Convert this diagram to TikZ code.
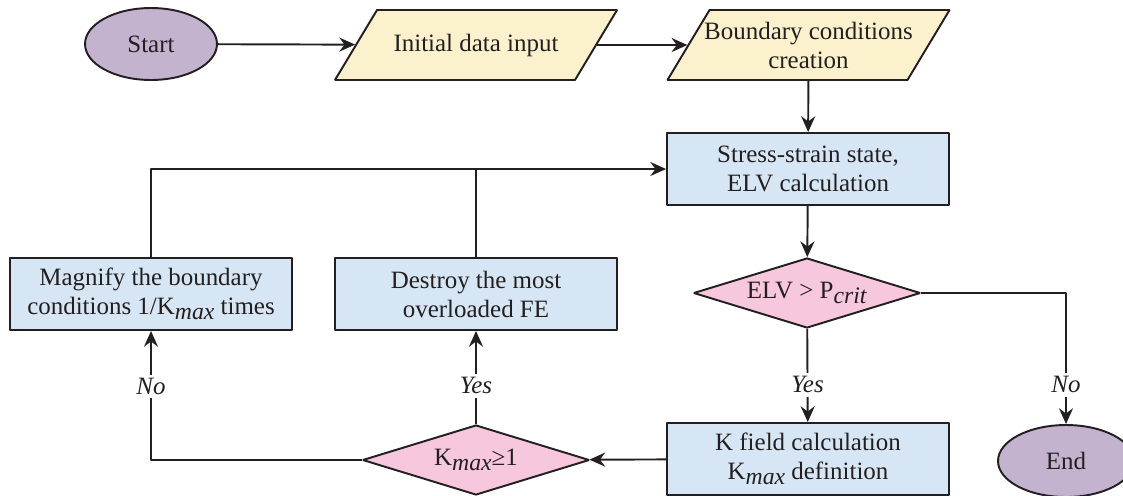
\documentclass[tikz,border=0pt]{standalone}
\usepackage{fontspec}
\setmainfont{Liberation Serif}
\usetikzlibrary{shapes.geometric}
\usetikzlibrary{arrows.meta}

\definecolor{inkline}{HTML}{231F20}
\definecolor{termfill}{HTML}{C3B3CF}
\definecolor{iofill}{HTML}{FCF1CD}
\definecolor{procfill}{HTML}{D7E6F4}
\definecolor{testfill}{HTML}{F7C7DE}

\newcommand{\lowidx}[1]{\raisebox{-0.45ex}{\fontsize{13.5}{13.5}\selectfont\textit{#1}}}
% parallelogram body: fixed height, so the slant keeps its angle
\newcommand{\iotext}[1]{\parbox[c][1.4cm][c]{3.96cm}{\centering #1}}

\tikzset{
  every node/.style={font=\fontsize{14.2}{16.5}\selectfont, text=inkline},
  terminal/.style={ellipse, draw=inkline, fill=termfill, inner sep=0pt, minimum height=1.44cm},
  iobox/.style={trapezium, trapezium left angle=59, trapezium right angle=121,
    draw=inkline, fill=iofill, inner sep=0pt},
  procbox/.style={rectangle, draw=inkline, fill=procfill, inner sep=0pt, minimum width=5.64cm,
    minimum height=1.44cm, align=center},
  testbox/.style={diamond, aspect=3.2, draw=inkline, fill=testfill, inner sep=0pt,
    minimum width=4.54cm, minimum height=1.4cm},
  answer/.style={fill=white, inner sep=2pt, font=\fontsize{14.2}{16.5}\selectfont\itshape},
  flow/.style={draw=inkline, -{Stealth[length=9pt, width=8pt, inset=3pt]}}
}

\begin{document}
\begin{tikzpicture}[x=0.02cm, y=-0.02cm, line width=1.1pt, line join=bevel]
  \fill[white] (0,0) rectangle (1123,495);
  \clip (0,0) rectangle (1123,495);

  \node[terminal, minimum width=2.64cm] (start) at (151,44) {Start};
  \node[iobox] (input) at (476,45) {\iotext{Initial data input}};
  \node[iobox] (bound) at (808.5,45) {\iotext{\makebox[0pt]{Boundary conditions}\\creation}};
  \node[procbox] (stress) at (808,169) {Stress-strain state,\\ELV calculation};
  \node[testbox] (elv) at (807,293) {ELV > P\lowidx{crit}};
  \node[procbox] (kfield) at (808,459) {K field calculation\\K\lowidx{max} definition};
  \node[terminal, minimum width=2.72cm] (finish) at (1066,461) {End};
  \node[testbox] (kmax) at (476,460) {K\lowidx{max}≥1};
  \node[procbox] (destroy) at (476,294) {Destroy the most\\overloaded FE};
  \node[procbox] (magnify) at (151,294) {Magnify the boundary\\conditions 1/K\lowidx{max} times};

  \coordinate (merge) at (destroy.north |- stress.west);

  \draw[flow] (start) -- (input);
  \draw[flow] (input) -- (bound);
  \draw[flow] (bound) -- (stress);
  \draw[flow] (stress) -- (elv);
  \draw[flow] (elv) -- node[answer, pos=0.6] {Yes} (kfield);
  \draw[flow] (elv.east) -| node[answer, pos=0.85] {No} (finish.north);
  \draw[flow] (kfield) -- (kmax);
  \draw[flow] (kmax) -- node[answer, pos=0.41] {Yes} (destroy);
  \draw[flow] (kmax.west) -| node[answer, pos=0.785] {No} (magnify.south);
  \draw[flow] (magnify.north) |- (stress.west);
  \draw[draw=inkline] (destroy.north) -- (merge);
\end{tikzpicture}
\end{document}
